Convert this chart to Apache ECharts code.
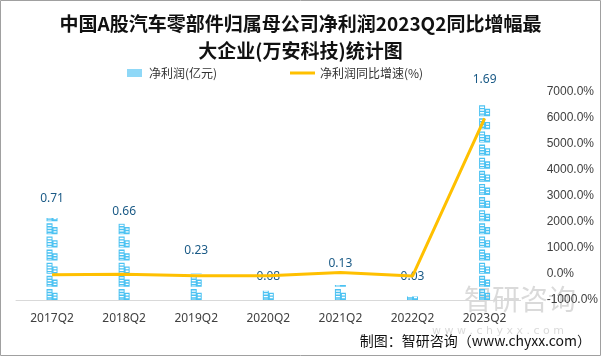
<!DOCTYPE html>
<html><head><meta charset="utf-8">
<script src="https://cdn.jsdelivr.net/npm/echarts@6/dist/echarts.min.js"></script>
<style>html,body{margin:0;padding:0;background:#fff}#c{width:601px;height:356px}</style>
</head><body><div id="c"></div>
<script>
const categories = ['2017Q2','2018Q2','2019Q2','2020Q2','2021Q2','2022Q2','2023Q2'];
const netProfit = [0.71, 0.66, 0.23, 0.08, 0.13, 0.03, 1.69];
const growthRate = [-25, -7, -65, -65, 62, -77, 5990];
const seriesNames = ['净利润(亿元)', '净利润同比增速(%)'];
const titleText = '中国A股汽车零部件归属母公司净利润2023Q2同比增幅最\n大企业(万安科技)统计图';
const sourceText = '制图：智研咨询（www.chyxx.com）';

const icon = 'path://M0,0H6V12H0Z M1,1.5V3H5V1.5Z M1,4.5V6H5V4.5Z M1,7.5V9H5V7.5Z M1,10.5V11.2H5V10.5Z M6,4H11V12H6Z M7,5.5V7H10V5.5Z M7,8.5V10H10V8.5Z';
const chart = echarts.init(document.getElementById('c'));
chart.setOption({
  animation: false,
  title: {
    text: titleText, left: 'center', top: 5,
    textStyle: {fontFamily: 'Noto Sans CJK SC', fontSize: 19, fontWeight: 'bold', color: '#111', lineHeight: 27}
  },
  legend: [{
    data: [{name: seriesNames[0], icon: 'rect', itemStyle: {color: '#8fd8f7'}}],
    left: 122, top: 62, itemWidth: 15, itemHeight: 8, itemGap: 6,
    textStyle: {fontFamily: 'Noto Sans CJK SC', fontSize: 12, color: '#333', padding: [0,0,0,2]}
  }, {
    data: [{name: seriesNames[1], icon: 'rect', itemStyle: {color: '#FFC000'}}],
    left: 285, top: 62, itemWidth: 25, itemHeight: 3,
    textStyle: {fontFamily: 'Noto Sans CJK SC', fontSize: 12, color: '#333', padding: [0,0,0,0]}
  }],
  graphic: [
    {type: 'rect', shape: {x: 0.5, y: 0.5, width: 600, height: 355}, style: {fill: 'none', stroke: '#a0a0a0', lineWidth: 1}, z: 100},
    {type: 'text', left: 464, top: 285, z: -10, style: {text: '智研咨询', fontFamily: 'Noto Sans CJK SC', fontSize: 28, fill: 'rgba(150,150,150,0.35)'}},
    {type: 'text', left: 432, top: 326, z: -10, style: {text: 'w w w . c h y x x . c o m', fontFamily: 'DejaVu Sans', fontSize: 11, fill: 'rgba(150,150,150,0.35)'}},
    {type: 'text', right: 10, top: 334, style: {text: sourceText, fontFamily: 'Noto Sans CJK SC', fontSize: 14, fill: '#111'}}
  ],
  grid: {left: 16, right: 70, top: 92, bottom: 56},
  xAxis: {
    type: 'category', data: categories,
    axisLine: {lineStyle: {color: '#d9d9d9'}}, axisTick: {show: false},
    axisLabel: {color: '#404040', fontSize: 12, margin: 13, fontFamily: 'Noto Sans'}
  },
  yAxis: [{
    type: 'value', min: 0, max: 1.8, show: false, splitLine: {show: false}
  }, {
    type: 'value', min: -1000, max: 7000, interval: 1000, position: 'right',
    axisLine: {show: false}, axisTick: {show: false}, splitLine: {show: false},
    axisLabel: {formatter: v => v.toFixed(1) + '%', color: '#404040', fontSize: 12, margin: 26, fontFamily: 'Liberation Sans'}
  }],
  series: [{
    name: seriesNames[0], type: 'pictorialBar', data: netProfit, yAxisIndex: 0,
    symbol: icon, symbolRepeat: true, symbolClip: true, symbolSize: [11, 11], symbolMargin: 1.4,
    barWidth: 11,
    itemStyle: {color: '#4cc2f2'},
    label: {show: true, position: 'top', distance: 6, color: '#1a5a86', fontSize: 12, fontFamily: 'Noto Sans'}
  }, {
    name: seriesNames[1], type: 'line', data: growthRate, yAxisIndex: 1,
    symbol: 'none', lineStyle: {color: '#FFC000', width: 3}, itemStyle: {color: '#FFC000'}, z: 5
  }]
});
</script></body></html>
